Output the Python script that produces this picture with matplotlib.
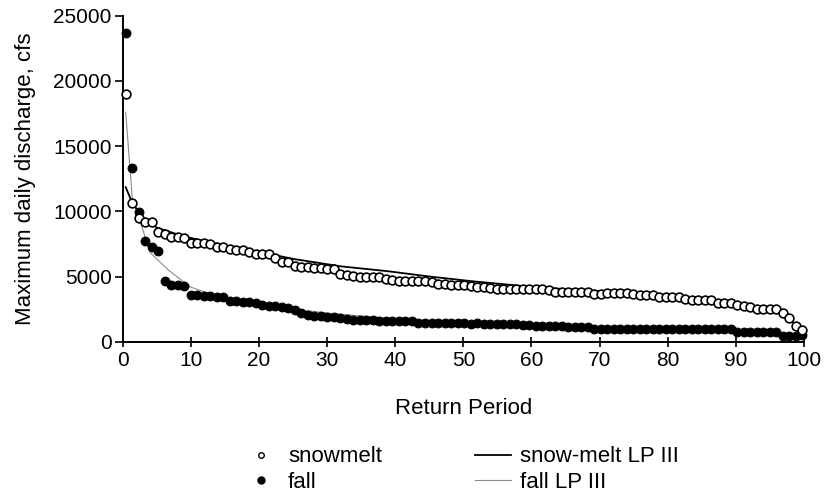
import numpy as np
import matplotlib
matplotlib.use("Agg")
import matplotlib.pyplot as plt
from matplotlib.lines import Line2D

plt.rcParams['font.family'] = ['Liberation Sans', 'DejaVu Sans']

# plotting positions (percent), one per ranked year
x_pos = np.linspace(0.45, 99.75, 105)

# ranked maximum daily discharge, cfs
snowmelt = [19000, 10650, 9450, 9200, 9200, 8450, 8250, 8050, 8000, 7950,
            7600, 7550, 7550, 7500, 7300, 7250, 7100, 7000, 7050, 6900,
            6750, 6760, 6760, 6420, 6100, 6100, 5800, 5760, 5760, 5660,
            5620, 5580, 5580, 5200, 5080, 5040, 4950, 4990, 4990, 4950,
            4820, 4740, 4690, 4640, 4640, 4640, 4640, 4560, 4440, 4440,
            4310, 4310, 4310, 4240, 4180, 4180, 4130, 4060, 4060, 4060,
            4060, 4060, 4060, 4060, 4060, 3930, 3810, 3810, 3810, 3810,
            3810, 3810, 3680, 3680, 3730, 3730, 3730, 3730, 3680, 3550,
            3550, 3550, 3400, 3420, 3420, 3420, 3300, 3170, 3170, 3170,
            3170, 2970, 2970, 2970, 2790, 2720, 2660, 2540, 2540, 2540,
            2540, 2210, 1850, 1190, 890]

fall = [23700, 13300, 9970, 7740, 7230, 6980, 4640, 4310, 4310, 4240,
        3550, 3550, 3500, 3470, 3450, 3400, 3150, 3120, 3040, 3010,
        2990, 2790, 2720, 2720, 2660, 2620, 2460, 2210, 2030, 1950,
        1950, 1900, 1900, 1850, 1770, 1700, 1700, 1650, 1650, 1600,
        1550, 1600, 1600, 1600, 1580, 1450, 1420, 1400, 1400, 1400,
        1400, 1400, 1400, 1380, 1400, 1320, 1320, 1320, 1320, 1320,
        1320, 1300, 1300, 1200, 1200, 1200, 1200, 1200, 1100, 1100,
        1100, 1100, 950, 950, 950, 950, 950, 950, 950, 950,
        950, 950, 950, 950, 950, 950, 950, 950, 950, 950,
        950, 950, 950, 950, 760, 760, 760, 760, 760, 760,
        760, 400, 400, 420, 500]

# LP III fitted curves
snow_fit_x = [0.44, 1.4, 3, 5, 8.5, 12, 16, 20, 25, 32, 39, 45, 51.6, 61.4,
              68.7, 75, 82, 90.3, 95, 96.7, 98.6, 99.75]
snow_fit_y = [11850, 10650, 9500, 8750, 8150, 7700, 7300, 6900, 6350, 5780,
              5400, 5000, 4620, 4140, 3930, 3650, 3300, 2790, 2400, 2160,
              1400, 600]
fall_fit_x = [0.44, 1.4, 2.4, 4, 6.7, 9.9, 13, 16, 20, 25, 30, 40, 50, 60,
              70, 80, 90, 97, 99.75]
fall_fit_y = [17600, 11000, 9500, 6850, 5500, 4200, 3650, 3250, 2900, 2500,
              2200, 1750, 1480, 1250, 1070, 920, 780, 600, 350]

fig = plt.figure(figsize=(8.28, 4.98), dpi=100)
ax = fig.add_axes([122.7 / 828, 1 - 341.7 / 498, 681.3 / 828, 326 / 498])

ax.plot(fall_fit_x, fall_fit_y, color='#8c8c8c', lw=0.8, zorder=2)
ax.plot(snow_fit_x, snow_fit_y, color='black', lw=1.3, zorder=2)
ax.plot(x_pos, fall, 'o', color='black', ms=6.3, mew=0.8, clip_on=False, zorder=3)
ax.plot(x_pos, snowmelt, 'o', mfc='white', mec='black', ms=6.3, mew=1.2,
        clip_on=False, zorder=4)

ax.set_xlim(0, 100)
ax.set_ylim(0, 25000)
ax.set_xticks(range(0, 101, 10))
ax.set_yticks(range(0, 25001, 5000))
for s in ['top', 'right']:
    ax.spines[s].set_visible(False)
for s in ['left', 'bottom']:
    ax.spines[s].set_linewidth(1.4)
ax.tick_params(axis='x', direction='inout', length=7, width=1.2, labelsize=15, pad=3)
ax.tick_params(axis='y', direction='out', length=6, width=1.2, labelsize=15, pad=2)

ax.set_xlabel('Return Period', fontsize=16, labelpad=20)
ax.set_ylabel('Maximum daily discharge, cfs', fontsize=16, labelpad=12)

handles = [
    Line2D([], [], ls='none', marker='o', mfc='white', mec='black', ms=4, mew=1),
    Line2D([], [], ls='none', marker='o', color='black', ms=5),
    Line2D([], [], color='black', lw=1.3),
    Line2D([], [], color='#8c8c8c', lw=0.8),
]
labels = ['snowmelt', 'fall', 'snow-melt LP III', 'fall LP III']
fig.legend(handles, labels, ncol=2, loc='center', bbox_to_anchor=(0.557, 0.057),
           frameon=False, fontsize=16, handlelength=1.6, handletextpad=0.4,
           columnspacing=4.2, labelspacing=0.2)

fig.savefig('out.png', dpi=100)
